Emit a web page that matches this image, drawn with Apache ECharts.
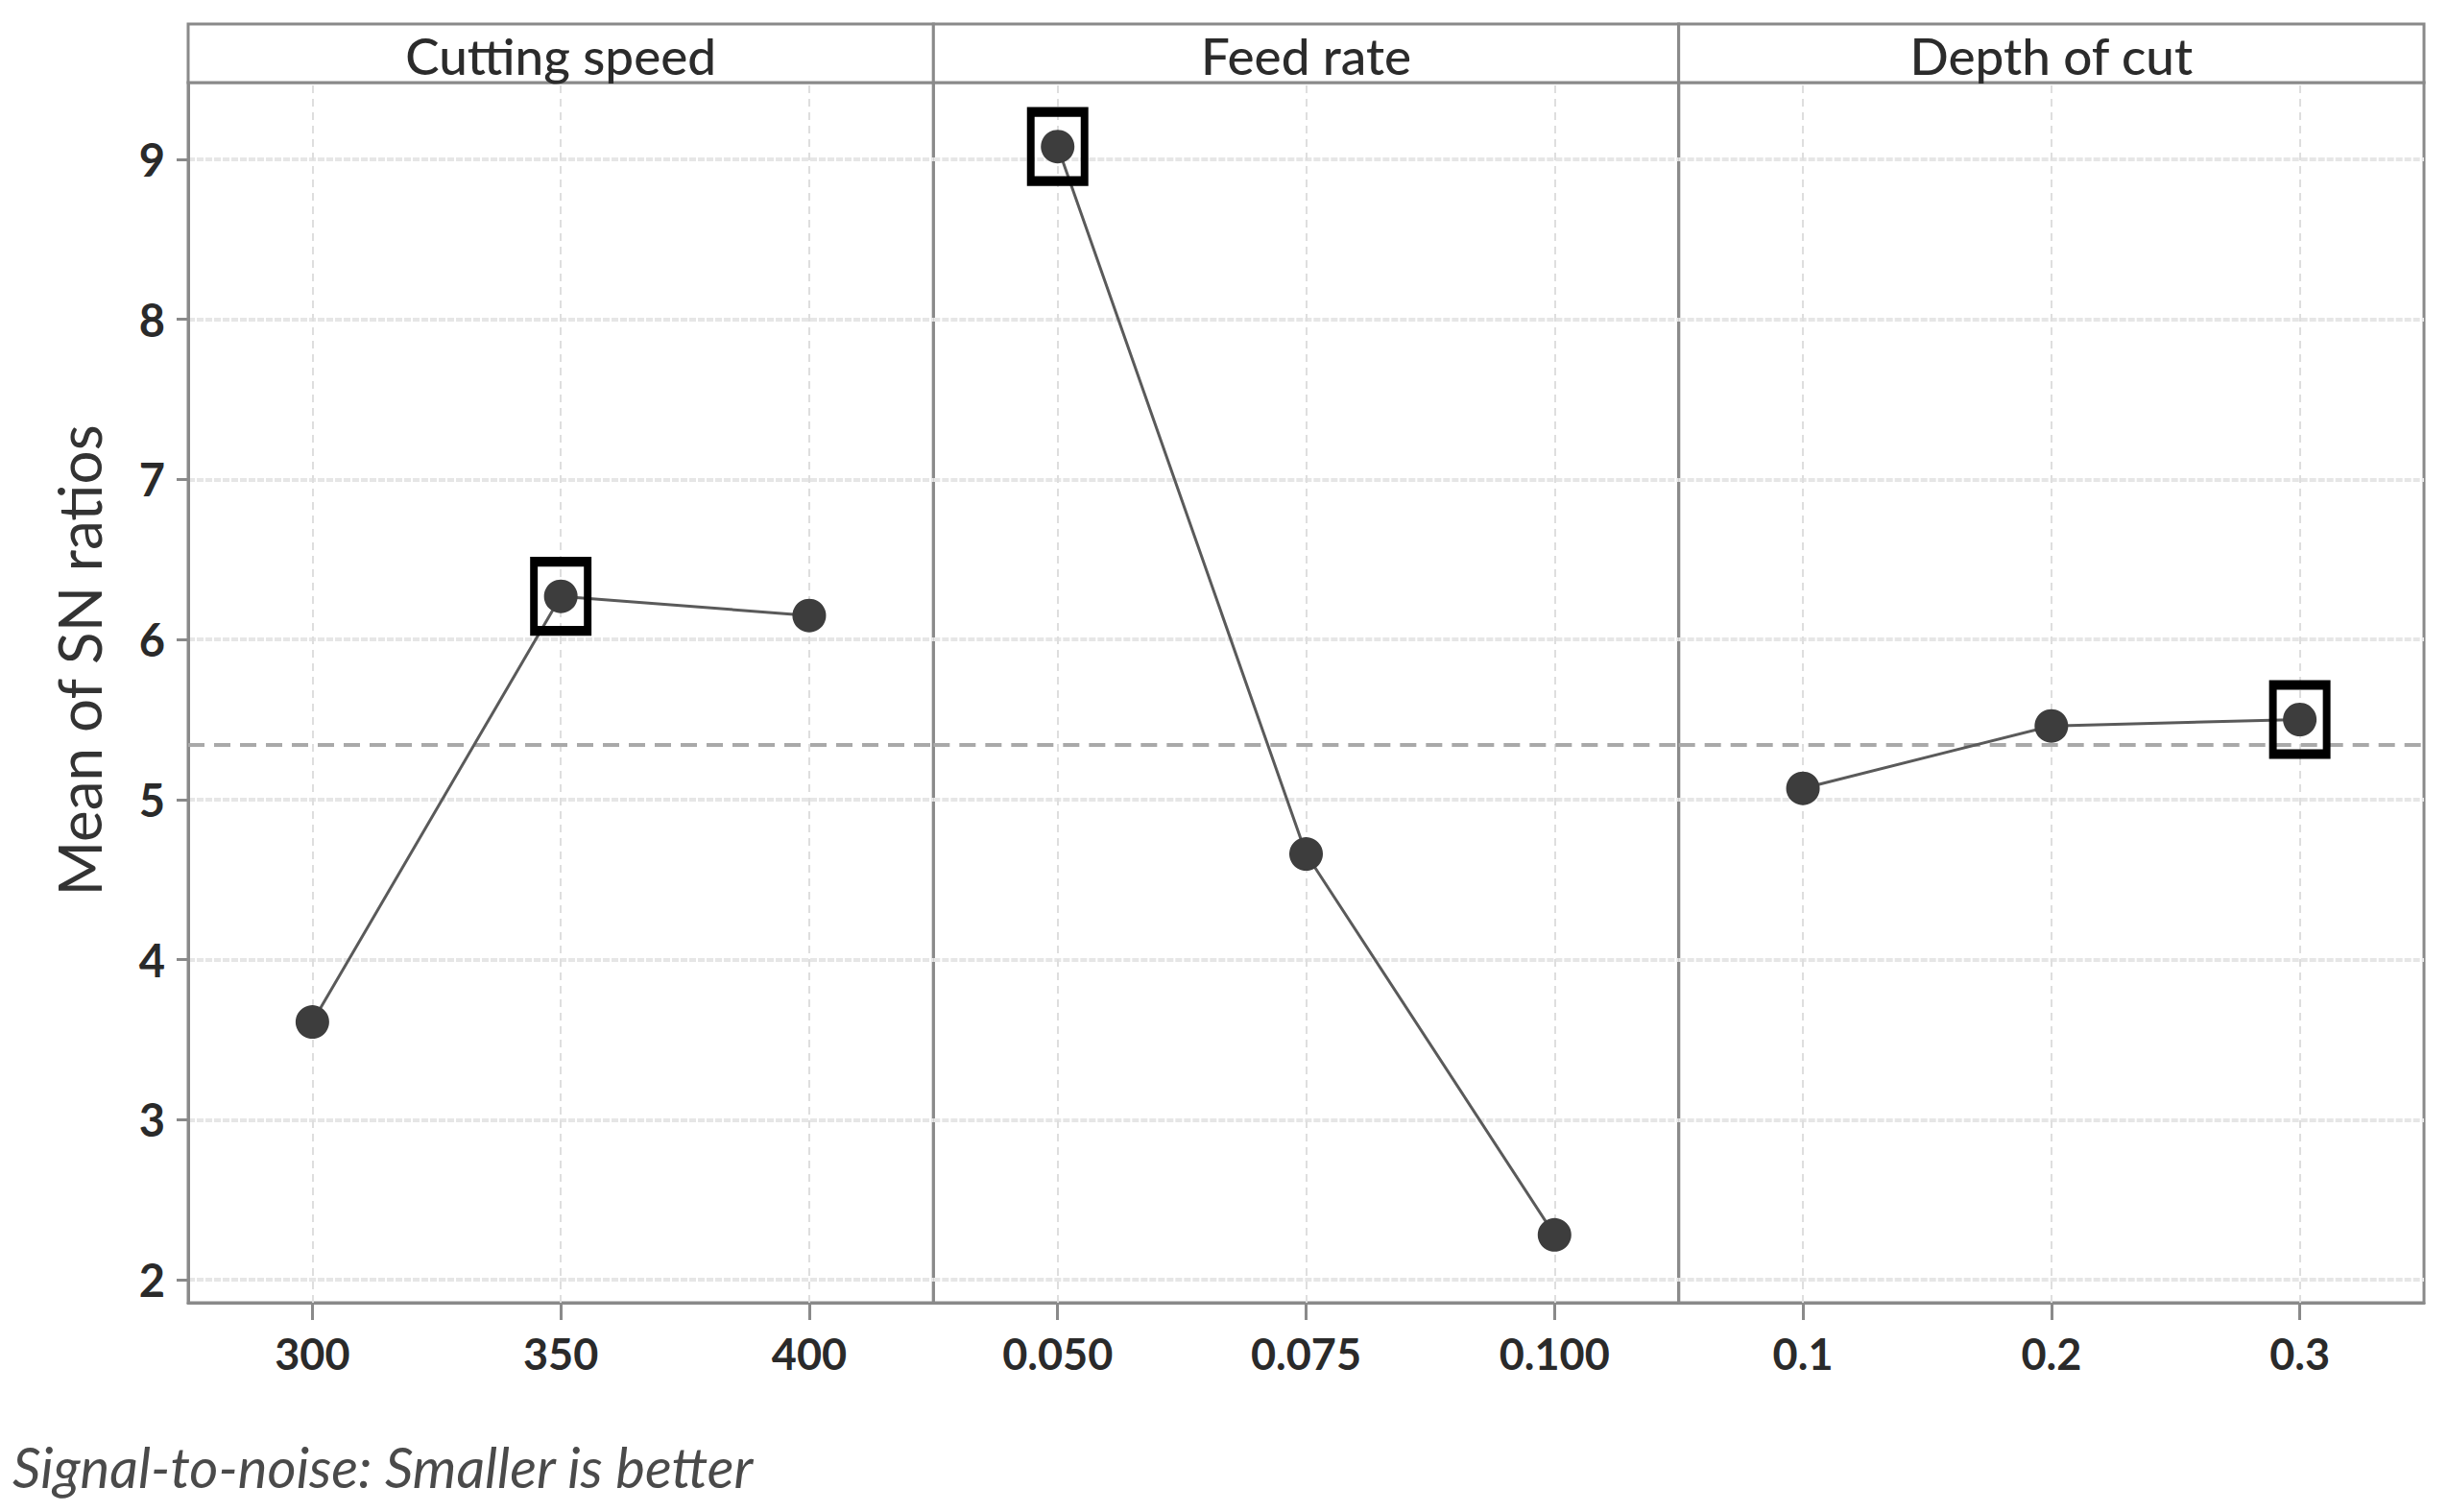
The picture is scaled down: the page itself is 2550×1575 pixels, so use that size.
<!DOCTYPE html>
<html>
<head>
<meta charset="utf-8">
<script src="https://cdn.jsdelivr.net/npm/echarts@6/dist/echarts.min.js"></script>
<style>
html,body{margin:0;padding:0;background:#fff;}
#chart{width:2550px;height:1575px;}
</style>
</head>
<body>
<div id="chart"></div>
<script>
// ---- data ----
const factorNames = ['Cutting speed', 'Feed rate', 'Depth of cut'];
const speedLevels = ['300', '350', '400'];
const speedSN = [3.61, 6.27, 6.15];
const feedLevels = ['0.050', '0.075', '0.100'];
const feedSN = [9.08, 4.66, 2.28];
const depthLevels = ['0.1', '0.2', '0.3'];
const depthSN = [5.07, 5.46, 5.50];
const yTicks = [2, 3, 4, 5, 6, 7, 8, 9];
const yAxisTitle = 'Mean of SN ratios';
const footnote = 'Signal-to-noise: Smaller is better';

// ---- layout ----
const FONT = 'Lato, "Open Sans", "Noto Sans", sans-serif';
const plotLeft = 196, plotRight = 2525, plotTop = 86, plotBottom = 1357, stripTop = 25;
const panelW = (plotRight - plotLeft) / 3;
const borderColor = '#8a8a8a';

const levels = [speedLevels, feedLevels, depthLevels];
const values = [speedSN, feedSN, depthSN];
const allVals = [].concat(speedSN, feedSN, depthSN);
const grandMean = allVals.reduce((a, b) => a + b, 0) / allVals.length;

const grids = [], xAxes = [], yAxes = [], series = [], graphics = [];

for (let i = 0; i < 3; i++) {
  const left = plotLeft + i * panelW;
  grids.push({
    left: left, top: plotTop, width: panelW, height: plotBottom - plotTop,
    show: true, borderColor: borderColor, borderWidth: 3, backgroundColor: 'transparent'
  });
  xAxes.push({
    type: 'category', gridIndex: i, data: levels[i], boundaryGap: true,
    axisLine: { show: true, lineStyle: { color: borderColor, width: 3 } },
    axisTick: { show: true, alignWithLabel: true, length: 18, lineStyle: { color: borderColor, width: 3 } },
    axisLabel: { margin: 30, fontFamily: FONT, fontSize: 45, fontWeight: 700, color: '#2a2a2a' },
    splitLine: { show: false }
  });
  yAxes.push({
    type: 'value', gridIndex: i, min: 1.856, max: 9.48, splitNumber: 8, minInterval: 1, maxInterval: 1,
    axisLine: { show: i === 0, lineStyle: { color: borderColor, width: 3 } },
    axisTick: { show: i === 0, length: 12, customValues: yTicks, lineStyle: { color: borderColor, width: 3 } },
    axisLabel: {
      show: i === 0, margin: 24, customValues: yTicks,
      fontFamily: FONT, fontSize: 47, fontWeight: 700, color: '#2a2a2a',
      formatter: v => (Math.abs(v - Math.round(v)) < 1e-6 ? String(Math.round(v)) : '')
    },
    splitLine: { show: true, lineStyle: { color: '#e6e6e6', width: 4, type: [7, 2] } }
  });

  // reference lines (vertical grid at levels + grand mean)
  series.push({
    type: 'line', xAxisIndex: i, yAxisIndex: i, data: [], z: 1, silent: true,
    markLine: {
      silent: true, symbol: 'none', animation: false, z: 1, label: { show: false },
      data: levels[i].map(c => ({ xAxis: c, lineStyle: { color: '#dedede', width: 2, type: [8, 6] } }))
        .concat([{ yAxis: grandMean, lineStyle: { color: '#a9a9a9', width: 4, type: [17, 10] } }])
    }
  });

  // main effects line
  series.push({
    type: 'line', xAxisIndex: i, yAxisIndex: i, z: 3,
    data: values[i],
    symbol: 'circle', symbolSize: 35, showSymbol: true,
    lineStyle: { color: '#5a5a5a', width: 3 },
    itemStyle: { color: '#3d3d3d', borderWidth: 0 },
    animation: false
  });

  // optimal-level box (max SN ratio: smaller is better)
  const best = values[i].indexOf(Math.max.apply(null, values[i]));
  series.push({
    type: 'scatter', xAxisIndex: i, yAxisIndex: i, z: 4,
    data: [[levels[i][best], values[i][best]]],
    symbol: 'rect', symbolSize: [56, 72],
    itemStyle: { color: 'rgba(0,0,0,0)', borderColor: '#000', borderWidth: 9, opacity: 1 },
    animation: false, silent: true
  });

  // strip header
  graphics.push({
    type: 'rect', z: 10,
    shape: { x: left, y: stripTop, width: panelW, height: plotTop - stripTop },
    style: { fill: '#fff', stroke: borderColor, lineWidth: 3 }
  });
  graphics.push({
    type: 'text', z: 11, x: left + panelW / 2, y: (stripTop + plotTop) / 2 + 2,
    style: {
      text: factorNames[i], textAlign: 'center', textVerticalAlign: 'middle',
      font: '500 53px ' + FONT, fill: '#2b2b2b'
    }
  });
}

graphics.push({
  type: 'text', x: 82, y: 688, rotation: Math.PI / 2,
  style: { text: yAxisTitle, textAlign: 'center', textVerticalAlign: 'middle', font: '400 62px ' + FONT, fill: '#333' }
});
graphics.push({
  type: 'text', x: 13, y: 1527,
  style: { text: footnote, textAlign: 'left', textVerticalAlign: 'middle', font: 'italic 400 58px ' + FONT, fill: '#4a4a4a' }
});

const chart = echarts.init(document.getElementById('chart'), null, { renderer: 'svg' });
chart.setOption({
  backgroundColor: '#fff',
  animation: false,
  grid: grids,
  xAxis: xAxes,
  yAxis: yAxes,
  series: series,
  graphic: graphics
});
</script>
</body>
</html>
